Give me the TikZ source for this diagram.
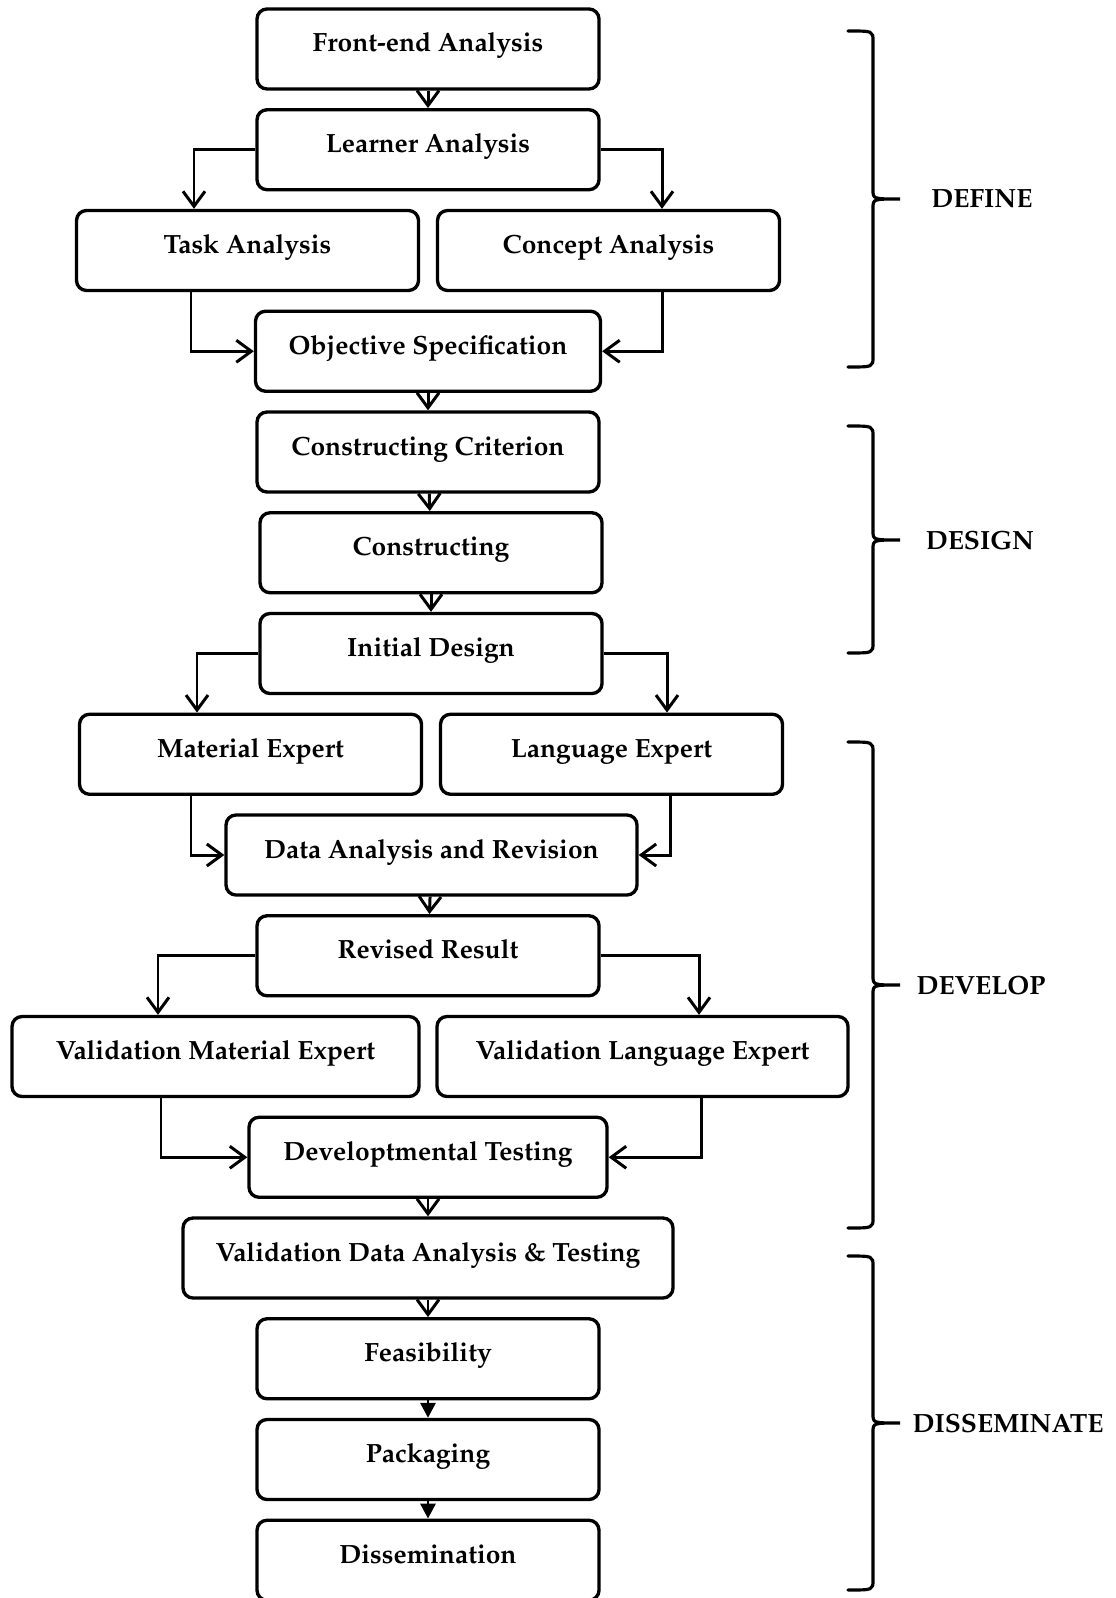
\documentclass[tikz,border=0pt]{standalone}
\usepackage[T1]{fontenc}
\usepackage{mathpazo}
\usepackage{tikz}
\usetikzlibrary{shapes.geometric, arrows, arrows.meta}
\tikzstyle{stage} = [rectangle, rounded corners=0.2cm, draw, line width=1.9pt, text centered, minimum width=6.84cm, minimum height=1.6cm, text height=0.4cm, text depth=0.28cm, font=\fontsize{15}{18}\selectfont\bfseries]
\tikzstyle{arrow} = [line width=1.7pt, -{Straight Barb[length=3mm,width=4.4mm]}]
\tikzstyle{arrowfill} = [line width=1.7pt, -{Triangle[length=3mm,width=3mm]}]
\tikzstyle{phasebrace} = [line width=1.8pt, line cap=round]
\tikzstyle{phase} = [font=\fontsize{15}{18}\selectfont\bfseries]

\begin{document}
\begin{tikzpicture}[node distance=2.015cm]
  \useasboundingbox (0,0) rectangle (22.3,-31.96);

  \node (fea) [stage] at (8.56,-0.98) {Front-end Analysis};
  \node (la) [stage, below of=fea] {Learner Analysis};
  \node (task) [stage, below of=la, xshift=-3.61cm] {Task Analysis};
  \node (concept) [stage, below of=la, xshift=3.61cm] {Concept Analysis};
  \node (objspec) [stage, below of=task, xshift=3.61cm, minimum width=6.9cm] {Objective Specification};
  \node (cc) [stage, below of=objspec] {Constructing Criterion};
  \node (cons) [stage, below of=cc, xshift=0.06cm] {Constructing};
  \node (id) [stage, below of=cons] {Initial Design};
  \node (matexp) [stage, below of=id, xshift=-3.61cm] {Material Expert};
  \node (langexp) [stage, below of=id, xshift=3.61cm] {Language Expert};
  \node (dar) [stage, below of=matexp, xshift=3.62cm, minimum width=8.22cm] {Data Analysis and Revision};
  \node (rr) [stage, below of=dar, xshift=-0.07cm] {Revised Result};
  \node (vme) [stage, below of=rr, xshift=-4.25cm, minimum width=8.14cm] {Validation Material Expert};
  \node (vle) [stage, below of=rr, xshift=4.29cm, minimum width=8.22cm] {Validation Language Expert};
  \node (dt) [stage, below of=vme, xshift=4.25cm, minimum width=7.16cm] {Developtmental Testing};
  \node (vdat) [stage, below of=dt, minimum width=9.8cm] {Validation Data Analysis \& Testing};
  \node (feas) [stage, below of=vdat] {Feasibility};
  \node (pack) [stage, below of=feas] {Packaging};
  \node (diss) [stage, below of=pack] {Dissemination};

  \draw [arrow] (fea) -- (la);
  \draw [arrow] (la.west) -| ([xshift=-1.07cm]task.north);
  \draw [arrow] (la.east) -| ([xshift=1.07cm]concept.north);
  \draw [arrow] ([xshift=-1.13cm]task.south) |- (objspec.west);
  \draw [arrow] ([xshift=1.07cm]concept.south) |- (objspec.east);
  \draw [arrow] (objspec) -- (cc);
  \draw [arrow] (cc) -- (cons);
  \draw [arrow] (cons) -- (id);
  \draw [arrow] (id.west) -| ([xshift=-1.07cm]matexp.north);
  \draw [arrow] (id.east) -| ([xshift=1.11cm]langexp.north);
  \draw [arrow] ([xshift=-1.19cm]matexp.south) |- (dar.west);
  \draw [arrow] ([xshift=1.17cm]langexp.south) |- (dar.east);
  \draw [arrow] (dar) -- (rr);
  \draw [arrow] (rr.west) -| ([xshift=-1.15cm]vme.north);
  \draw [arrow] (rr.east) -| ([xshift=1.13cm]vle.north);
  \draw [arrow] ([xshift=-1.09cm]vme.south) |- (dt.west);
  \draw [arrow] ([xshift=1.17cm]vle.south) |- (dt.east);
  \draw [arrow] (dt) -- (vdat);
  \draw [arrow] (vdat) -- (feas);
  \draw [arrowfill] (feas) -- (pack);
  \draw [arrowfill] (pack) -- (diss);

  % phase braces
  \draw [phasebrace] (16.96,-0.62) .. controls (17.46,-0.62) .. (17.46,-0.82) -- (17.46,-3.8)
    .. controls (17.46,-3.98) .. (18.0,-3.98) .. controls (17.46,-3.98) .. (17.46,-4.16)
    -- (17.46,-7.14) .. controls (17.46,-7.34) .. (16.96,-7.34);
  \draw [phasebrace] (16.96,-8.52) .. controls (17.46,-8.52) .. (17.46,-8.72) -- (17.46,-10.62)
    .. controls (17.46,-10.8) .. (18.0,-10.8) .. controls (17.46,-10.8) .. (17.46,-10.98)
    -- (17.46,-12.86) .. controls (17.46,-13.06) .. (16.96,-13.06);
  \draw [phasebrace] (16.96,-14.84) .. controls (17.46,-14.84) .. (17.46,-15.04) -- (17.46,-19.52)
    .. controls (17.46,-19.7) .. (18.0,-19.7) .. controls (17.46,-19.7) .. (17.46,-19.88)
    -- (17.46,-24.36) .. controls (17.46,-24.56) .. (16.96,-24.56);
  \draw [phasebrace] (16.96,-25.12) .. controls (17.46,-25.12) .. (17.46,-25.32) -- (17.46,-28.28)
    .. controls (17.46,-28.46) .. (18.0,-28.46) .. controls (17.46,-28.46) .. (17.46,-28.64)
    -- (17.46,-31.6) .. controls (17.46,-31.8) .. (16.96,-31.8);

  \node (define) [phase] at (19.64,-3.98) {DEFINE};
  \node (design) [phase] at (19.6,-10.8) {DESIGN};
  \node (develop) [phase] at (19.62,-19.7) {DEVELOP};
  \node (dissem) [phase] at (20.16,-28.46) {DISSEMINATE};
\end{tikzpicture}
\end{document}
